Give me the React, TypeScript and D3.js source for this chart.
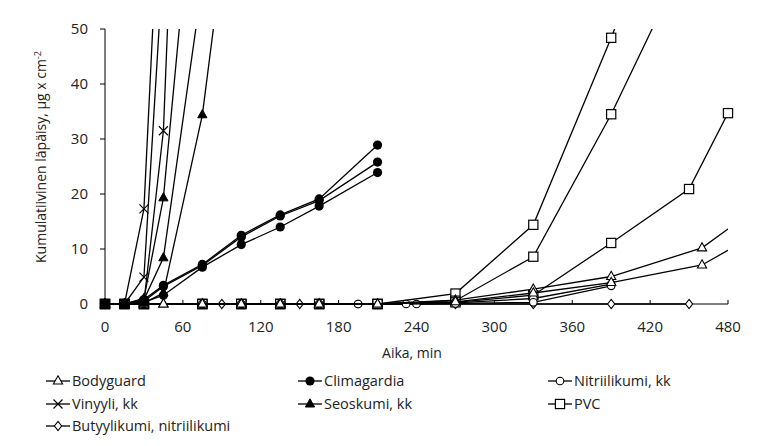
import React from 'react';
import * as d3 from 'd3';

// --- data ---
const bodyguardTimes = [0, 15, 30, 45, 75, 105, 135, 165, 210, 270, 330, 390, 460, 520];
const bodyguardA = [0, 0, 0, 0, 0, 0, 0, 0, 0, 0.7, 2.7, 5.0, 10.2, 20.5];
const bodyguardB = [0, 0, 0, 0, 0, 0, 0, 0, 0, 0.4, 2.0, 3.9, 7.1, 15.1];

const climaTimes = [0, 15, 30, 45, 75, 105, 135, 165, 210];
const climaA = [0, 0, 0.8, 3.4, 7.2, 12.5, 16.2, 19.1, 28.9];
const climaB = [0, 0, 0.5, 3.2, 7.0, 12.2, 16.0, 18.8, 25.8];
const climaC = [0, 0, 0.3, 1.6, 6.7, 10.8, 14.0, 17.8, 23.9];

const nitriTimesA = [0, 15, 30, 75, 105, 135, 165, 195, 240, 270, 330, 390];
const nitriA = [0, 0, 0, 0, 0, 0, 0, 0, 0, 0.2, 1.0, 3.6];
const nitriTimesB = [0, 15, 30, 75, 105, 135, 165, 195, 232, 270, 330, 390];
const nitriB = [0, 0, 0, 0, 0, 0, 0, 0, 0, 0.1, 0.3, 3.3];

const vinyyliTimesA = [0, 15, 30, 45];
const vinyyliA = [0, 0, 17.3, 90];
const vinyyliTimesB = [0, 15, 30, 45];
const vinyyliB = [0, 0, 4.9, 63];
const vinyyliTimesC = [0, 15, 30, 45, 60];
const vinyyliC = [0, 0, 0.3, 31.5, 120];

const seosTimesA = [0, 15, 30, 45, 60];
const seosA = [0, 0, 1.0, 19.3, 57];
const seosTimesB = [0, 15, 30, 45, 75];
const seosB = [0, 0, 0.8, 8.4, 58.4];
const seosTimesC = [0, 15, 30, 45, 75, 90];
const seosC = [0, 0, 0.2, 2.0, 34.4, 62];

const pvcTimes = [0, 15, 30, 75, 105, 135, 165, 210, 270, 330, 390, 450];
const pvcA = [0, 0, 0, 0, 0, 0, 0, 0, 1.9, 14.4, 48.4, 85];
const pvcB = [0, 0, 0, 0, 0, 0, 0, 0, 0.6, 8.6, 34.5, 64];
const pvcTimesC = [0, 15, 30, 75, 105, 135, 165, 210, 270, 330, 390, 450, 480];
const pvcC = [0, 0, 0, 0, 0, 0, 0, 0, 0.3, 1.6, 11.1, 20.9, 34.7];

const butyyliTimes = [0, 30, 90, 150, 210, 270, 330, 390, 450];
const butyyli = [0, 0, 0, 0, 0, 0, 0, 0, 0];

const xTicks = [0, 60, 120, 180, 240, 300, 360, 420, 480];
const yTicks = [0, 10, 20, 30, 40, 50];

type Marker = 'triOpen' | 'dot' | 'circOpen' | 'cross' | 'triFilled' | 'square' | 'diamond';

const legendItems: { name: string; marker: Marker }[] = [
  { name: 'Bodyguard', marker: 'triOpen' },
  { name: 'Climagardia', marker: 'dot' },
  { name: 'Nitriilikumi, kk', marker: 'circOpen' },
  { name: 'Vinyyli, kk', marker: 'cross' },
  { name: 'Seoskumi, kk', marker: 'triFilled' },
  { name: 'PVC', marker: 'square' },
  { name: 'Butyylikumi, nitriilikumi', marker: 'diamond' },
];

// drawing order: open markers first, filled ones on top (as in the original)
const curves: { marker: Marker; t: number[]; v: number[] }[] = [
  { marker: 'diamond', t: butyyliTimes, v: butyyli },
  { marker: 'square', t: pvcTimes, v: pvcA },
  { marker: 'square', t: pvcTimes, v: pvcB },
  { marker: 'square', t: pvcTimesC, v: pvcC },
  { marker: 'circOpen', t: nitriTimesA, v: nitriA },
  { marker: 'circOpen', t: nitriTimesB, v: nitriB },
  { marker: 'triOpen', t: bodyguardTimes, v: bodyguardA },
  { marker: 'triOpen', t: bodyguardTimes, v: bodyguardB },
  { marker: 'cross', t: vinyyliTimesA, v: vinyyliA },
  { marker: 'cross', t: vinyyliTimesB, v: vinyyliB },
  { marker: 'cross', t: vinyyliTimesC, v: vinyyliC },
  { marker: 'triFilled', t: seosTimesA, v: seosA },
  { marker: 'triFilled', t: seosTimesB, v: seosB },
  { marker: 'triFilled', t: seosTimesC, v: seosC },
  { marker: 'dot', t: climaTimes, v: climaA },
  { marker: 'dot', t: climaTimes, v: climaB },
  { marker: 'dot', t: climaTimes, v: climaC },
];

const FONT = '"Open Sans", "DejaVu Sans", sans-serif';

function MarkerShape({ kind, x, y }: { kind: Marker; x: number; y: number }) {
  const tri = 'M0,-5.2L4.6,3L-4.6,3Z';
  switch (kind) {
    case 'triOpen':
      return <path d={tri} transform={`translate(${x},${y})`} fill="#fff" stroke="#000" strokeWidth={1.1} />;
    case 'triFilled':
      return <path d={tri} transform={`translate(${x},${y})`} fill="#000" stroke="#000" strokeWidth={1} />;
    case 'dot':
      return <circle cx={x} cy={y} r={4.6} fill="#000" />;
    case 'circOpen':
      return <circle cx={x} cy={y} r={3.8} fill="#fff" stroke="#000" strokeWidth={1.1} />;
    case 'square':
      return <rect x={x - 4.6} y={y - 4.6} width={9.2} height={9.2} fill="#fff" stroke="#000" strokeWidth={1.2} />;
    case 'diamond':
      return <path d="M0,-4.6L3.6,0L0,4.6L-3.6,0Z" transform={`translate(${x},${y})`} fill="#fff" stroke="#000" strokeWidth={1.1} />;
    case 'cross':
      return <path d="M-4.5,-4.5L4.5,4.5M-4.5,4.5L4.5,-4.5" transform={`translate(${x},${y})`} fill="none" stroke="#000" strokeWidth={1.1} />;
  }
  return null;
}

export default function App() {
  const x = d3.scaleLinear().domain([0, 480]).range([105, 728]);
  const y = d3.scaleLinear().domain([0, 50]).range([304, 29]);
  const line = d3.line<[number, number]>().x(d => x(d[0])).y(d => y(d[1]));

  const legendCols = [46, 298, 548];
  const legendRows = [381, 404, 426];

  return (
    <svg width={757} height={446} style={{ position: 'absolute', left: 0, top: 0, background: '#fff' }} fontFamily={FONT}>
      <defs>
        <clipPath id="plotClip">
          <rect x={x(0)} y={y(50)} width={x(480) - x(0)} height={y(0) - y(50) + 6} />
        </clipPath>
      </defs>

      {/* axes */}
      <line x1={x(0)} x2={x(0)} y1={y(50)} y2={y(0)} stroke="#000" strokeWidth={1} />
      <line x1={x(0)} x2={x(480)} y1={y(0)} y2={y(0)} stroke="#000" strokeWidth={1} />
      {yTicks.map(t => (
        <g key={`y${t}`}>
          <line x1={x(0) - 5} x2={x(0)} y1={y(t)} y2={y(t)} stroke="#000" />
          <text x={88} y={y(t)} dy="0.35em" textAnchor="end" fontSize={15} fill="#222">{t}</text>
        </g>
      ))}
      {xTicks.map(t => (
        <g key={`x${t}`}>
          <line x1={x(t)} x2={x(t)} y1={y(0) - 4} y2={y(0)} stroke="#000" />
          <text x={x(t)} y={332} textAnchor="middle" fontSize={15} fill="#222">{t}</text>
        </g>
      ))}
      <text x={412} y={358} textAnchor="middle" fontSize={14} fill="#222">Aika, min</text>
      <text transform="translate(46,157) rotate(-90)" textAnchor="middle" fontSize={14} fill="#222">
        Kumulatiivinen läpäisy, µg x cm<tspan dy={-5} fontSize={9}>-2</tspan>
      </text>

      {/* curves */}
      {curves.map((c, i) => {
        const pts = c.t.map((t, j) => [t, c.v[j]] as [number, number]);
        return (
          <g key={i}>
            <path d={line(pts) || ''} fill="none" stroke="#000" strokeWidth={1.3} clipPath="url(#plotClip)" />
            {pts
              .filter(p => p[0] <= 480 && p[1] <= 50)
              .map((p, j) => (
                <MarkerShape key={j} kind={c.marker} x={x(p[0])} y={y(p[1])} />
              ))}
          </g>
        );
      })}

      {/* legend */}
      {legendItems.map((item, i) => {
        const lx = legendCols[i % 3];
        const ly = legendRows[Math.floor(i / 3)];
        return (
          <g key={item.name}>
            <line x1={lx} x2={lx + 24} y1={ly} y2={ly} stroke="#000" strokeWidth={1.3} />
            <MarkerShape kind={item.marker} x={lx + 12} y={ly} />
            <text x={lx + 26} y={ly} dy="0.35em" fontSize={14.5} fill="#222">{item.name}</text>
          </g>
        );
      })}
    </svg>
  );
}
